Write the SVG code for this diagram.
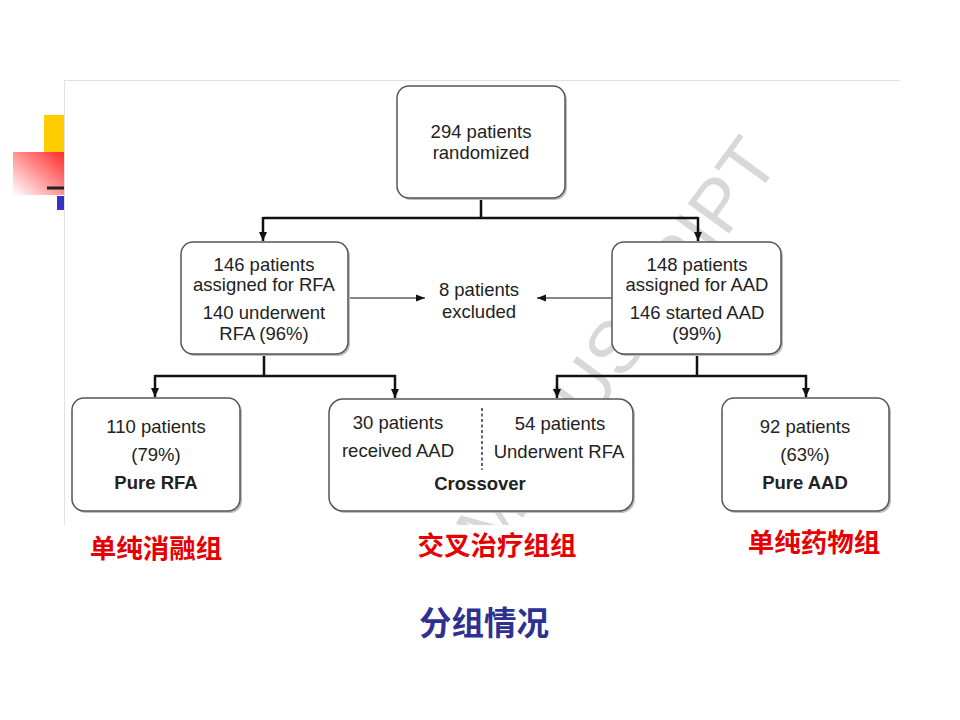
<svg xmlns="http://www.w3.org/2000/svg" width="960" height="720" viewBox="0 0 960 720">
<style>
.t{font-family:"Liberation Sans",Arial,"Noto Sans CJK SC",sans-serif;font-size:18.5px;fill:#222;text-anchor:middle}
.b{font-weight:bold}
.box{fill:#fff;stroke:#555;stroke-width:1.5}
.sh{fill:#bdbdbd}
.tree{fill:none;stroke:#111;stroke-width:2.5}
.thin{fill:none;stroke:#111;stroke-width:1.2}
.cn{font-family:"Noto Sans CJK SC","Liberation Sans",sans-serif;font-weight:bold;text-anchor:middle}
.wm{font-family:"Liberation Sans",Arial,sans-serif;font-size:74px;fill:#d8d8d8;text-anchor:end}
</style>
<defs>
<linearGradient id="rg" x1="1" y1="0" x2="0" y2="1">
<stop offset="0" stop-color="#ff2a2a"/>
<stop offset="1" stop-color="#ffffff"/>
</linearGradient>
<clipPath id="panel"><rect x="64" y="80" width="836" height="445"/></clipPath>
<marker id="ah" markerUnits="userSpaceOnUse" markerWidth="10" markerHeight="10" refX="9" refY="5" orient="auto">
<path d="M0,1 L9,5 L0,9 Z" fill="#111"/>
</marker>
<marker id="ahs" markerUnits="userSpaceOnUse" markerWidth="10" markerHeight="10" refX="9" refY="5" orient="auto">
<path d="M0,1.5 L9,5 L0,8.5 Z" fill="#111"/>
</marker>
</defs>
<rect width="960" height="720" fill="#fff"/>
<g id="decoration">
<rect x="44" y="115" width="20" height="37" fill="#ffcc00"/>
<rect x="13" y="152" width="51" height="43" fill="url(#rg)"/>
<rect x="47" y="186.5" width="17" height="3" fill="#222"/>
<rect x="57" y="196" width="7" height="14" fill="#3333cc"/>
</g>
<g id="panel-bg">
<rect x="64" y="80" width="836" height="445" fill="#fff"/>
<path d="M64,80.5 H900 M64.5,80 V525" stroke="#e2e2e2" stroke-width="1" fill="none"/>
<g clip-path="url(#panel)">
<text class="wm" x="781" y="162" transform="rotate(-54 781 162)">ACCEPTED MANUSCRIPT</text>
</g>
</g>
<g id="connectors">
<path class="tree" d="M481,198 V218 M263,218 H698"/>
<path class="tree" d="M263,217 V241" marker-end="url(#ah)"/>
<path class="tree" d="M698,217 V241" marker-end="url(#ah)"/>
<path class="thin" d="M348,298 H425" marker-end="url(#ahs)"/>
<path class="thin" d="M612,298 H537" marker-end="url(#ahs)"/>
<path class="tree" d="M264,354 V376 M155,376 H396"/>
<path class="tree" d="M155,375 V397" marker-end="url(#ah)"/>
<path class="tree" d="M395,375 V398" marker-end="url(#ah)"/>
<path class="tree" d="M697,354 V376 M556,376 H807"/>
<path class="tree" d="M557,375 V398" marker-end="url(#ah)"/>
<path class="tree" d="M806,375 V397" marker-end="url(#ah)"/>
</g>
<g id="n-randomized">
<rect class="sh" x="399" y="88" width="168" height="112" rx="12"/>
<rect class="box" x="397" y="86" width="168" height="112" rx="12"/>
<text class="t" x="481" y="138">294 patients</text>
<text class="t" x="481" y="159">randomized</text>
</g>
<g id="n-rfa">
<rect class="sh" x="183" y="244" width="167" height="112" rx="12"/>
<rect class="box" x="181" y="242" width="167" height="112" rx="12"/>
<text class="t" x="264" y="270.5">146 patients</text>
<text class="t" x="264" y="291">assigned for RFA</text>
<text class="t" x="264" y="318.5">140 underwent</text>
<text class="t" x="264" y="339.5">RFA (96%)</text>
</g>
<g id="n-excluded">
<text class="t" x="479" y="295.5">8 patients</text>
<text class="t" x="479" y="317.5">excluded</text>
</g>
<g id="n-aad">
<rect class="sh" x="614" y="244" width="169" height="112" rx="12"/>
<rect class="box" x="612" y="242" width="169" height="112" rx="12"/>
<text class="t" x="697" y="270.5">148 patients</text>
<text class="t" x="697" y="291">assigned for AAD</text>
<text class="t" x="697" y="318.5">146 started AAD</text>
<text class="t" x="697" y="339.5">(99%)</text>
</g>
<g id="n-pure-rfa">
<rect class="sh" x="74" y="400" width="168" height="113" rx="12"/>
<rect class="box" x="72" y="398" width="168" height="113" rx="12"/>
<text class="t" x="156" y="432.5">110 patients</text>
<text class="t" x="156" y="460.5">(79%)</text>
<text class="t b" x="156" y="488.5">Pure RFA</text>
</g>
<g id="n-crossover">
<rect class="sh" x="331" y="401" width="304" height="112" rx="14"/>
<rect class="box" x="329" y="399" width="304" height="112" rx="14"/>
<path d="M482,408 V470" stroke="#333" stroke-width="1.5" stroke-dasharray="3,2.5" fill="none"/>
<text class="t" x="398" y="428.5">30 patients</text>
<text class="t" x="398" y="456.5">received AAD</text>
<text class="t" x="560" y="429.5">54 patients</text>
<text class="t" x="559" y="457.5">Underwent RFA</text>
<text class="t b" x="480" y="489.5">Crossover</text>
</g>
<g id="n-pure-aad">
<rect class="sh" x="724" y="400" width="167" height="113" rx="12"/>
<rect class="box" x="722" y="398" width="167" height="113" rx="12"/>
<text class="t" x="805" y="432.5">92 patients</text>
<text class="t" x="805" y="460.5">(63%)</text>
<text class="t b" x="805" y="488.5">Pure AAD</text>
</g>
<g id="labels">
<text class="cn" x="156" y="558" font-size="26.5" fill="#e60000">单纯消融组</text>
<text class="cn" x="497" y="555" font-size="26.5" fill="#e60000">交叉治疗组组</text>
<text class="cn" x="814" y="552" font-size="26.5" fill="#e60000">单纯药物组</text>
<text class="cn" x="484" y="634.5" font-size="32.5" fill="#2e3192">分组情况</text>
</g>
</svg>
